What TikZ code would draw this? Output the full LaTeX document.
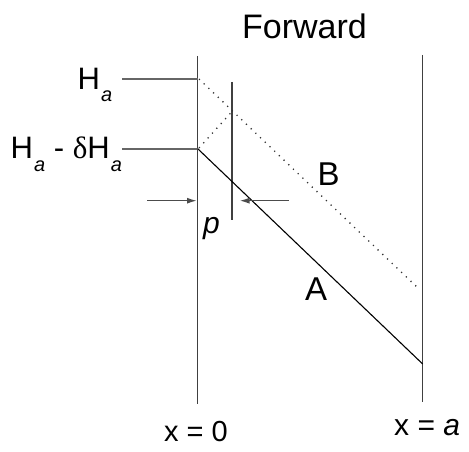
\documentclass[tikz,border=0pt]{standalone}
\usepackage{fontspec}
\setmainfont{Liberation Sans}
\newfontfamily\serifgreek{Liberation Serif}
\usetikzlibrary{arrows.meta}
\tikzset{
  wall/.style={draw=black!75, line width=1.5pt},
  level/.style={draw=black!60, line width=1.8pt},
  solidline/.style={draw=black, line width=1.1pt},
  dotline/.style={draw=black!80, line width=1.3pt, dash pattern=on 1.2pt off 5.3pt},
  dimarrow/.style={draw=black!70, line width=1.5pt, -{Latex[length=10pt,width=6pt]}},
  lbl/.style={inner sep=0pt, anchor=base west},
}
\newcommand{\fsz}[1]{\fontsize{#1}{#1}\selectfont}
\newcommand{\suba}{\raisebox{-13pt}{\fsz{20}\itshape a}}
\begin{document}
\begin{tikzpicture}[x=1pt,y=-1pt]
\useasboundingbox (0,0) rectangle (469,452);
% walls
\coordinate (L0) at (197.7,56);
\coordinate (L1) at (197.7,404);
\coordinate (R0) at (422.7,55);
\coordinate (R1) at (422.7,402);
\draw[wall] (L0) -- (L1);
\draw[wall] (R0) -- (R1);
% middle line
\coordinate (M0) at (232,82);
\coordinate (M1) at (232,220);
\draw[wall, line width=1.3pt] (M0) -- (M1);
% levels
\coordinate (HaL) at (122,79);
\coordinate (HaR) at (197.7,79);
\coordinate (HdL) at (122,148.7);
\coordinate (HdR) at (197.7,148.7);
\draw[level] (HaL) -- (HaR);
\draw[level] (HdL) -- (HdR);
% solid line A
\coordinate (Aend) at (422.7,364);
\draw[solidline] (HdR) -- (Aend);
% dotted lines B
\coordinate (Bstart) at (199,79);
\coordinate (Bend) at (419,289);
\coordinate (X) at (232,111.5);
\draw[dotline] (Bstart) -- (Bend);
\draw[dotline] (199,148) -- (X);
% arrows
\coordinate (a1s) at (147,200.7);
\coordinate (a1e) at (197,200.7);
\coordinate (a2s) at (288.5,200.7);
\coordinate (a2e) at (239.5,200.7);
\draw[dimarrow] (a1s) -- (a1e);
\draw[dimarrow] (a2s) -- (a2e);
% labels
\node[lbl] (fwd) at (242,39) {\fsz{34}Forward};
\node[lbl] (ha) at (77.5,89) {\fsz{31}H\hspace{1pt}\suba};
\node[lbl] (hd) at (10.5,158) {\fsz{31}H\hspace{1pt}\suba{} - {\serifgreek δ}H\hspace{1pt}\suba};
\node[lbl] (p) at (203,233) {\fsz{30}\itshape p};
\node[lbl] (A) at (305,300) {\fsz{33}A};
\node[lbl] (B) at (317.5,185) {\fsz{33}B};
\node[lbl] (x0) at (164,441.7) {\fsz{29}x = 0};
\node[lbl] (xa) at (394,435) {\fsz{30}x = \itshape a};
\end{tikzpicture}
\end{document}
